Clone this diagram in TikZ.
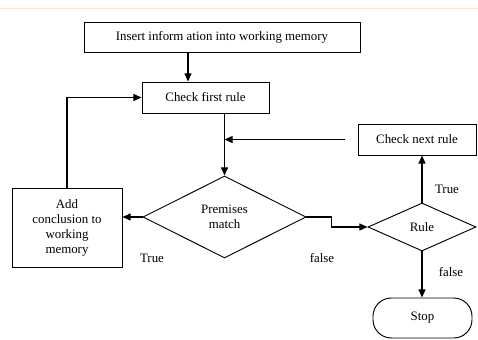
\documentclass[tikz,border=0pt]{standalone}
\usepackage{fontspec}
\setmainfont{Liberation Serif}
\usetikzlibrary{shapes.geometric, arrows.meta, positioning, calc}

\definecolor{pagetan}{RGB}{245, 230, 205}

\tikzset{
  box/.style={draw, line width=0.8pt, inner sep=2pt, align=center},
  decision/.style={draw, diamond, line width=0.8pt, inner sep=0pt, align=center},
  arr/.style={line width=1pt, -{Triangle[length=7pt, width=6pt]}},
  lbl/.style={inner sep=0pt}
}

\begin{document}
\begin{tikzpicture}[x=0.03cm, y=-0.03cm, font=\fontsize{11}{12.8}\selectfont]
  \useasboundingbox (0,0) rectangle (478,340);
  % page edge
  \draw[pagetan, line width=0.6pt] (0,8) -- (478,8);

  % boxes
  \node[box, minimum width=8.28cm, minimum height=0.9cm] (insert) at (222,37) {Insert inform ation into working memory};
  \node[box, minimum width=3.81cm, minimum height=0.93cm] (first) at (205.5,97.5) {Check first rule};
  \node[box, minimum width=3.54cm, minimum height=0.93cm] (next) at (417,139.5) {Check next rule};
  \node[box, minimum width=3.3cm, minimum height=2.37cm] (add) at (67,227.5) {Add\\conclusion to\\working\\memory};

  % decisions
  \node[decision, minimum width=4.89cm, minimum height=2.46cm] (prem) at (224.5,217) {Premises\\match};
  \node[decision, minimum width=3.24cm, minimum height=1.44cm] (rule) at (422,227) {Rule};

  % terminal
  \node[box, rounded corners=0.55cm, minimum width=2.97cm, minimum height=1.2cm] (stop) at (422.5,318) {Stop};

  % labels
  \node[lbl] (ltrue) at (152,258) {True};
  \node[lbl] (lfalse) at (322,258) {false};
  \node[lbl] (rtrue) at (447,189) {True};
  \node[lbl] (rfalse) at (451,272) {false};

  % connectors
  \coordinate (drop) at (188,0);
  \draw[arr] (insert.south -| drop) -- (first.north -| drop);
  \draw[arr] (first.south -| prem.north) -- (prem.north);
  \draw[arr] ([xshift=-13*0.03cm]next.west) -- (next.west -| prem.north);
  \draw[arr] (add.north) |- (first.west);
  \draw[arr] (prem.west) -- (add.east |- prem.west);
  \draw[arr] (prem.east) -- ++(25,0) |- (rule.west);
  \draw[arr] (rule.north) -- (next.south -| rule.north);
  \draw[arr] (rule.south) -- (stop.north -| rule.south);
\end{tikzpicture}
\end{document}
